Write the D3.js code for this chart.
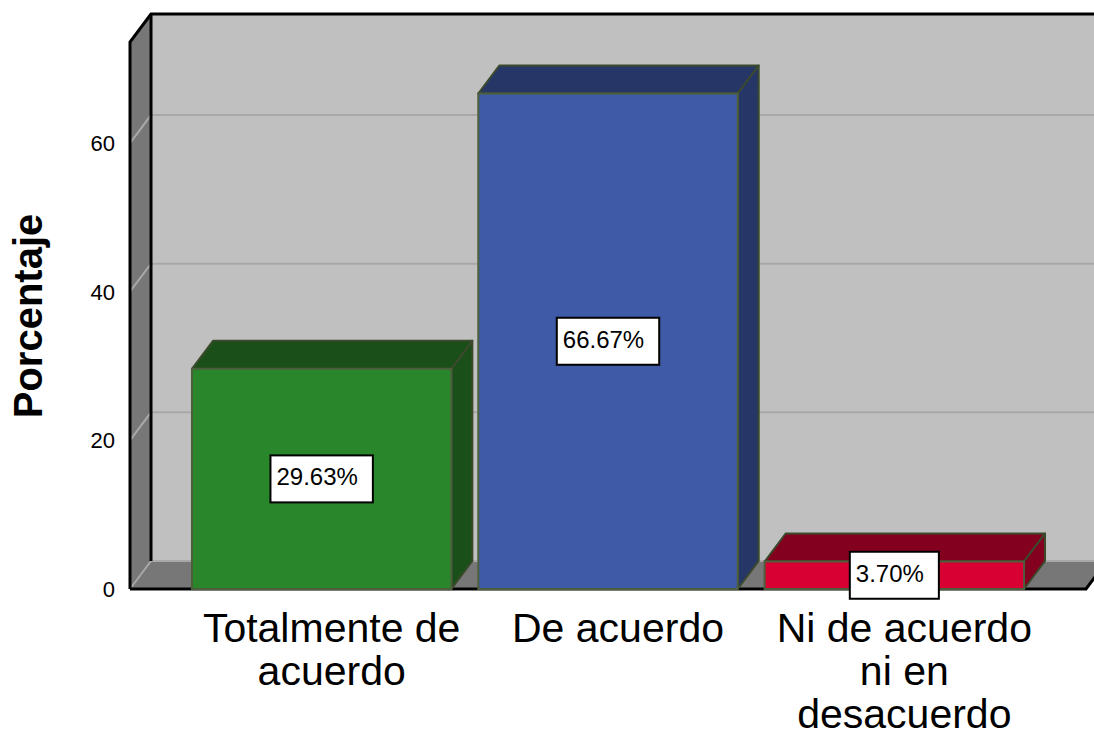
<!DOCTYPE html>
<meta charset="utf-8">
<html>
<head>
<style>
    body { margin: 0; background: #fff; }
    svg { display: block; font-family: Arial, "Liberation Sans", sans-serif; }
</style>
</head>
<body>
<script src="https://d3js.org/d3.v7.min.js"></script>
<svg width="1094" height="729"></svg>
<script>
    // chart data
    var categories = ["Totalmente de acuerdo", "De acuerdo", "Ni de acuerdo ni en desacuerdo"];
    var categoryLines = [["Totalmente de", "acuerdo"], ["De acuerdo"], ["Ni de acuerdo", "ni en", "desacuerdo"]];
    var values = [29.63, 66.67, 3.70];
    var valueLabels = ["29.63%", "66.67%", "3.70%"];
    var yTicks = [0, 20, 40, 60];
    var yTitle = "Porcentaje";

    var frontColors = ["#2a862a", "#3f5ba8", "#d80032"];
    var darkColors = ["#1b4f1a", "#263767", "#84001f"];

    var svg = d3.select("svg");

    // depth of the 3D effect
    var dx = 21, dy = -28;
    var left = 130, right = 1086, bottom = 589;

    var y = d3.scaleLinear().domain([0, 73.6]).range([bottom, 42]);
    var x = d3.scaleBand().domain(categories).range([178.5, 1037.5])
        .paddingInner(0.094).paddingOuter(0.047);

    var yTop = y.range()[1];

    // back wall
    svg.append("rect")
        .attr("x", left + dx).attr("y", yTop + dy)
        .attr("width", right - left + 40).attr("height", bottom - yTop)
        .attr("fill", "#c0c0c0");

    // left wall
    svg.append("path")
        .attr("d", "M" + left + "," + yTop + "L" + (left + dx) + "," + (yTop + dy) +
            "L" + (left + dx) + "," + (bottom + dy) + "L" + left + "," + bottom + "Z")
        .attr("fill", "#777777");

    // floor
    svg.append("path")
        .attr("d", "M" + left + "," + bottom + "L" + (left + dx) + "," + (bottom + dy) +
            "L" + (right + dx) + "," + (bottom + dy) + "L" + right + "," + bottom + "Z")
        .attr("fill", "#777777");

    // gridlines: diagonal on the left wall, then across the back wall
    var grid = svg.append("g");
    yTicks.forEach(function (t) {
        var yy = y(t);
        grid.append("path")
            .attr("d", "M" + left + "," + yy + "L" + (left + dx) + "," + (yy + dy) + "L" + 1100 + "," + (yy + dy))
            .attr("fill", "none")
            .attr("stroke", "#a8a8a8")
            .attr("stroke-width", 2);
    });

    // frame lines
    svg.append("path")
        .attr("d", "M" + left + "," + bottom + "L" + left + "," + yTop + "L" + (left + dx) + "," + (yTop + dy) + "L" + 1100 + "," + (yTop + dy))
        .attr("fill", "none").attr("stroke", "#000").attr("stroke-width", 3);
    svg.append("path")
        .attr("d", "M" + (left + dx) + "," + (yTop + dy) + "L" + (left + dx) + "," + (bottom + dy))
        .attr("fill", "none").attr("stroke", "#000").attr("stroke-width", 3);
    svg.append("path")
        .attr("d", "M" + left + "," + bottom + "L" + right + "," + bottom + "L" + (right + dx) + "," + (bottom + dy))
        .attr("fill", "none").attr("stroke", "#000").attr("stroke-width", 3);

    // y tick labels
    svg.selectAll(".ytick")
        .data(yTicks)
        .enter().append("text")
        .attr("class", "ytick")
        .attr("x", left - 15)
        .attr("y", function (d) { return y(d) + 8; })
        .attr("text-anchor", "end")
        .attr("font-size", "22px")
        .text(function (d) { return d; });

    // y title
    svg.append("text")
        .attr("transform", "translate(42,316) rotate(-90)")
        .attr("text-anchor", "middle")
        .attr("font-size", "40px")
        .attr("font-weight", "bold")
        .text(yTitle);

    // bars
    var bw = x.bandwidth();
    var bars = svg.selectAll(".bar")
        .data(values)
        .enter().append("g")
        .attr("class", "bar");

    bars.append("path") // top face
        .attr("d", function (d, i) {
            var x0 = x(categories[i]), yt = y(d);
            return "M" + x0 + "," + yt + "L" + (x0 + dx) + "," + (yt + dy) + "L" + (x0 + bw + dx) + "," + (yt + dy) +
                "L" + (x0 + bw) + "," + yt + "Z";
        })
        .attr("fill", function (d, i) { return darkColors[i]; })
        .attr("stroke", "#3b4a2c").attr("stroke-width", 2).attr("stroke-linejoin", "round");

    bars.append("path") // side face
        .attr("d", function (d, i) {
            var x1 = x(categories[i]) + bw, yt = y(d);
            return "M" + x1 + "," + yt + "L" + (x1 + dx) + "," + (yt + dy) + "L" + (x1 + dx) + "," + (bottom + dy) +
                "L" + x1 + "," + bottom + "Z";
        })
        .attr("fill", function (d, i) { return darkColors[i]; })
        .attr("stroke", "#3b4a2c").attr("stroke-width", 2).attr("stroke-linejoin", "round");

    bars.append("rect") // front face
        .attr("x", function (d, i) { return x(categories[i]); })
        .attr("y", function (d) { return y(d); })
        .attr("width", bw)
        .attr("height", function (d) { return bottom - y(d); })
        .attr("fill", function (d, i) { return frontColors[i]; })
        .attr("stroke", "#4d5e3c").attr("stroke-width", 2);

    // value label boxes
    bars.each(function (d, i) {
        var g = d3.select(this);
        var cx = x(categories[i]) + bw / 2;
        var cy = (y(d) + bottom) / 2;
        var box = g.append("rect");
        var t = g.append("text")
            .attr("font-size", "24px")
            .text(valueLabels[i]);
        var tw = t.node().getComputedTextLength();
        var w = tw + 21, h = 47;
        box.attr("x", cx - w / 2).attr("y", cy - h / 2)
            .attr("width", w).attr("height", h)
            .attr("fill", "#fff").attr("stroke", "#000").attr("stroke-width", 2);
        t.attr("x", cx - w / 2 + 6).attr("y", cy - h / 2 + 30);
    });

    // category labels
    var xl = svg.selectAll(".xlabel")
        .data(categoryLines)
        .enter().append("text")
        .attr("class", "xlabel")
        .attr("text-anchor", "middle")
        .attr("font-size", "41px");
    xl.selectAll("tspan")
        .data(function (d, i) { return d.map(function (s) { return { s: s, i: i }; }); })
        .enter().append("tspan")
        .attr("x", function (d) { return x(categories[d.i]) + bw / 2 + 10; })
        .attr("y", function (d, j) { return 642 + j * 43; })
        .text(function (d) { return d.s; });
</script>
</body>
</html>
